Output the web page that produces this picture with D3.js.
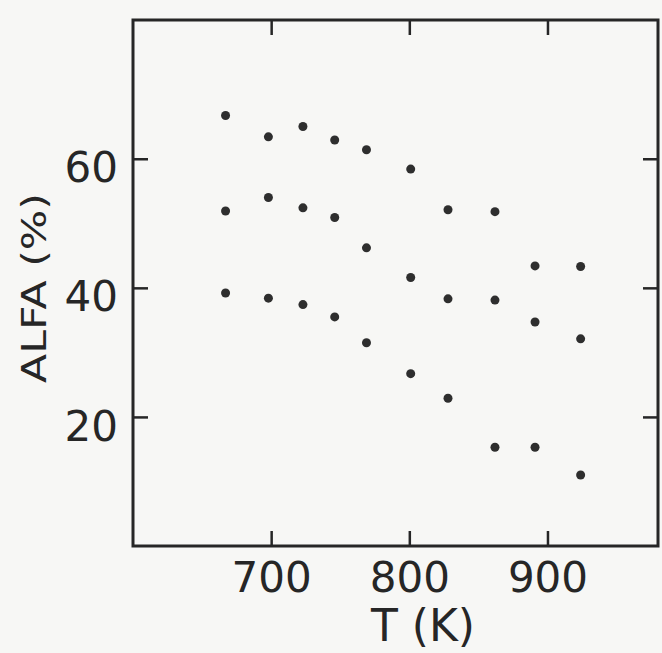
<!DOCTYPE html>
<html>
<head>
<meta charset="utf-8">
<script src="https://cdn.jsdelivr.net/npm/d3@7"></script>
<style>
  html, body { margin: 0; padding: 0; background: #f7f7f5; }
  svg { display: block; }
</style>
</head>
<body>
<svg id="chart" width="662" height="653"></svg>
<script>
// Data
const temperatures = [667, 698, 723, 746, 769, 801, 828, 862, 891, 924];
const seriesUpper  = [66.7, 63.4, 65.0, 62.9, 61.4, 58.4, 52.1, 51.8, 43.4, 43.3];
const seriesMiddle = [51.9, 54.0, 52.4, 50.9, 46.2, 41.6, 38.3, 38.1, 34.7, 32.1];
const seriesLower  = [39.2, 38.4, 37.4, 35.5, 31.5, 26.7, 22.9, 15.3, 15.3, 11.0];
const xTicks = [700, 800, 900];
const yTicks = [20, 40, 60];
const xTitle = "T (K)";
const yTitle = "ALFA (%)";

const svg = d3.select("#chart");
const ink = "#262626";
const font = "'DejaVu Sans', sans-serif";

const x = d3.scaleLinear().domain([600, 980]).range([133, 658]);
const y = d3.scaleLinear().domain([0, 81.5]).range([546, 20]);

// frame
svg.append("rect")
  .attr("x", x(600)).attr("y", y(81.5))
  .attr("width", x(980) - x(600)).attr("height", y(0) - y(81.5))
  .attr("fill", "none").attr("stroke", ink).attr("stroke-width", 3);

function styleAxis(g, showLabels) {
  g.select(".domain").remove();
  g.selectAll(".tick line").attr("stroke", ink).attr("stroke-width", 2.5);
  g.selectAll(".tick text")
    .attr("fill", ink)
    .style("font-family", font)
    .style("font-size", "42px")
    .style("display", showLabels ? null : "none");
}

// bottom axis
svg.append("g").attr("transform", `translate(0,${y(0)})`)
  .call(d3.axisBottom(x).tickValues(xTicks).tickSize(-15).tickPadding(16))
  .call(g => styleAxis(g, true));
// top axis
svg.append("g").attr("transform", `translate(0,${y(81.5)})`)
  .call(d3.axisTop(x).tickValues(xTicks).tickSize(-15))
  .call(g => styleAxis(g, false));
// left axis
svg.append("g").attr("transform", `translate(${x(600)},0)`)
  .call(d3.axisLeft(y).tickValues(yTicks).tickSize(-15).tickPadding(15))
  .call(g => { styleAxis(g, true); g.selectAll(".tick text").attr("dy", "0.55em"); });
// right axis
svg.append("g").attr("transform", `translate(${x(980)},0)`)
  .call(d3.axisRight(y).tickValues(yTicks).tickSize(-15))
  .call(g => styleAxis(g, false));

// points
const allSeries = [seriesUpper, seriesMiddle, seriesLower];
allSeries.forEach(vals => {
  svg.append("g").selectAll("circle")
    .data(vals.map((v, i) => ({ t: temperatures[i], a: v })))
    .join("circle")
    .attr("cx", d => x(d.t))
    .attr("cy", d => y(d.a))
    .attr("r", 4.5)
    .attr("fill", "#2e2e2e");
});

// titles
svg.append("text")
  .attr("x", 423).attr("y", 641)
  .attr("text-anchor", "middle")
  .attr("fill", ink)
  .style("font-family", font).style("font-size", "44px")
  .text(xTitle);

svg.append("text")
  .attr("transform", "translate(46,288) rotate(-90)")
  .attr("text-anchor", "middle")
  .attr("fill", ink)
  .attr("textLength", 190).attr("lengthAdjust", "spacingAndGlyphs")
  .style("font-family", font).style("font-size", "34px")
  .text(yTitle);
</script>
</body>
</html>
